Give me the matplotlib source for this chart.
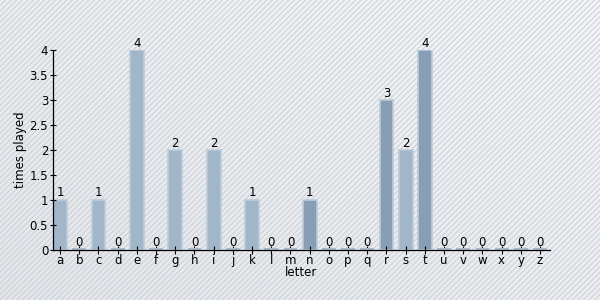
import numpy as np
import matplotlib.pyplot as plt
from matplotlib.patches import Rectangle

letters = list("abcdefghijklmnopqrstuvwxyz")
times_played = [1, 0, 1, 0, 4, 0, 2, 0, 2, 0, 1, 0, 0, 1, 0, 0, 0, 3, 2, 4, 0, 0, 0, 0, 0, 0]
dark_letters = ["n", "r", "t"]

fig = plt.figure(figsize=(6, 3), dpi=100)

# background: soft gradient with diagonal stripes
bg = fig.add_axes([0, 0, 1, 1], zorder=-2)
gx, gy = np.meshgrid(np.linspace(0, 1, 200), np.linspace(0, 1, 100))
t = ((gx + (1 - gy)) / 2)[..., None]
c0 = np.array([0.89, 0.90, 0.915])
c1 = np.array([0.955, 0.962, 0.975])
img = c0 * (1 - t) + c1 * t
bg.imshow(img, extent=[0, 1, 0, 1], aspect="auto", origin="upper")
plt.rcParams["hatch.linewidth"] = 0.8
bg.add_patch(Rectangle((0, 0), 1, 1, transform=bg.transAxes, facecolor="none",
                       edgecolor="#cdd2d8", hatch="//////", linewidth=0))
bg.set_xlim(0, 1)
bg.set_ylim(0, 1)
bg.set_axis_off()

ax = fig.add_axes([53 / 600, 50 / 300, 497 / 600, 200 / 300])
ax.patch.set_alpha(0)

fs = 8.5
x = np.arange(len(letters))
colors = ["#889eb5" if l in dark_letters else "#a2b6ca" for l in letters]
ax.bar(x, times_played, width=0.72, color=colors, edgecolor="#bccbda",
       linewidth=1.2)
for xi, v in zip(x, times_played):
    if v == 0:
        ax.plot([xi - 0.36, xi + 0.36], [0.012, 0.012], color="#a9bacb", lw=1.5,
                solid_capstyle="butt")
    ax.text(xi, v + 0.01, str(v), ha="center", va="bottom", fontsize=fs)

ax.set_xlim(-0.37, len(letters) - 0.48)
ax.set_ylim(0, 4)
ax.set_yticks(np.arange(0, 4.01, 0.5))
ax.set_yticklabels(["0", "0.5", "1", "1.5", "2", "2.5", "3", "3.5", "4"])
ax.set_xticks(x)
ax.set_xticklabels(letters)
ax.tick_params(axis="both", labelsize=fs, length=5, width=0.8, direction="inout",
               pad=1)
ax.tick_params(axis="x", length=6, pad=0)
for s in ["top", "right"]:
    ax.spines[s].set_visible(False)
ax.spines["left"].set_linewidth(0.9)
ax.spines["bottom"].set_linewidth(0.9)
ax.set_xlabel("letter", fontsize=fs, labelpad=-1)
ax.set_ylabel("times played", fontsize=fs, labelpad=2)

fig.savefig("out.png", dpi=100)
